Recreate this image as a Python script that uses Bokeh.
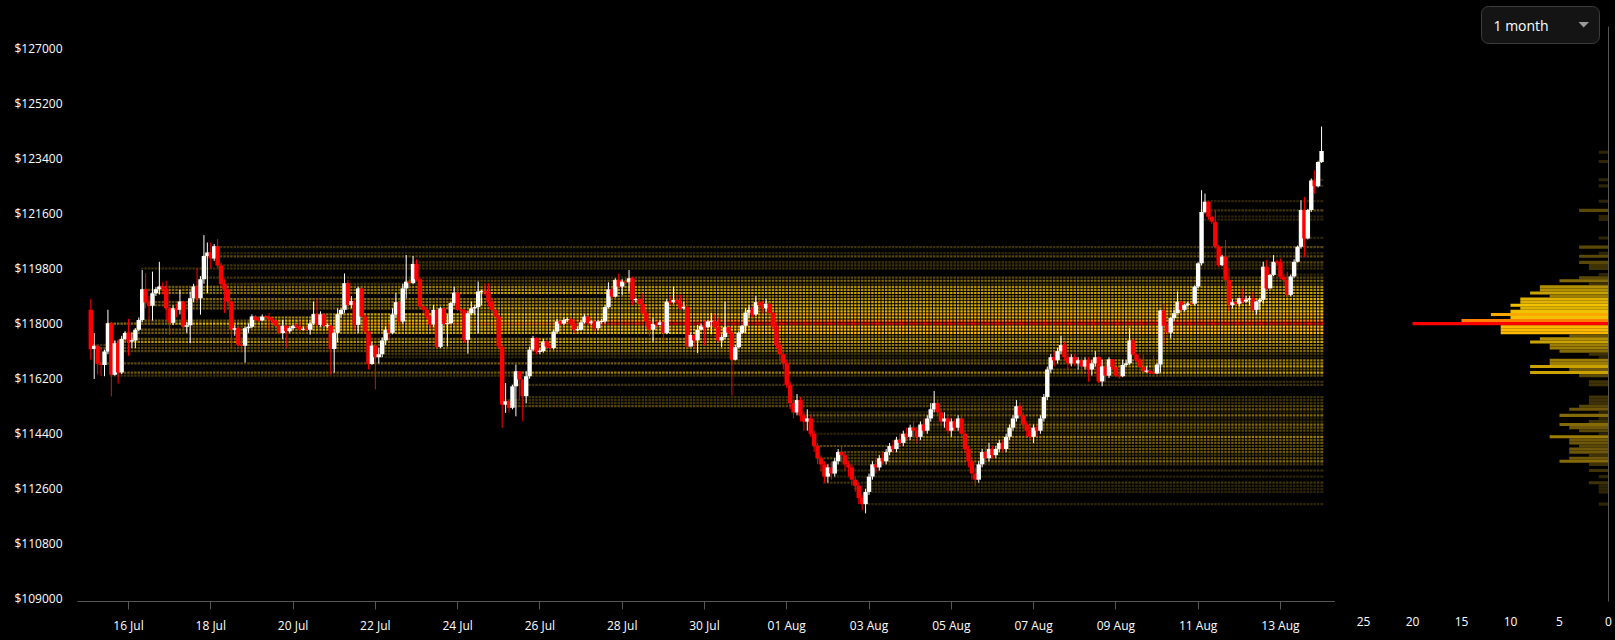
import numpy as np
import pandas as pd
from bokeh.plotting import figure
from bokeh.layouts import row
from bokeh.models import Range1d, FixedTicker, PrintfTickFormatter, ColumnDataSource, Label
from bokeh.embed import file_html
from bokeh.resources import INLINE

# ---------------------------------------------------------------- data
candle_start = "2025-07-15 02:00"     # 2-hour candles
first_open = 118450

closes = [
    117170, 117280, 116690, 116650, 117090, 118010, 116330, 117360, 116400, 117500, 117690,
    117420, 117450, 117800, 118120, 119120, 118690, 118580, 118990, 119120, 119210, 119150, 118500,
    118030, 118500, 118450, 118720, 117900, 117950, 118830, 119210, 118830, 119450, 120210, 120320,
    120130, 120530, 119900, 119290, 119120, 118720, 117800, 117850, 117310, 117280, 117850, 117900,
    118230, 118120, 118100, 118230, 118220, 118130, 118100, 117930, 117690, 117930, 117750, 117850,
    117930, 117900, 117800, 117820, 117800, 118000, 118310, 117960, 118300, 117930, 117930, 117170,
    117700, 118310, 118450, 119320, 118610, 118740, 117960, 119150, 118230, 117740, 116680, 117280,
    116900, 117000, 117450, 117800, 117700, 118300, 118700, 118070, 119150, 119370, 119320, 119950,
    119450, 118560, 118450, 118230, 117970, 118450, 117240, 118500, 117990, 118010, 118670, 119010,
    118450, 118440, 117470, 118340, 118500, 118540, 119050, 119050, 119040, 118720, 118450, 118230,
    117250, 115350, 115460, 115250, 115950, 116440, 116170, 115630, 116280, 117150, 117530, 117090,
    117100, 117420, 117250, 117200, 117740, 118070, 118000, 118120, 118140, 117990, 117800, 117800,
    118040, 118230, 118010, 118070, 117850, 118070, 118070, 118540, 119120, 118880, 119430, 119210,
    119370, 119350, 119480, 118770, 118800, 118640, 118340, 118070, 117800, 117990, 117960, 118040,
    117690, 118720, 118700, 118770, 118670, 118500, 118550, 117250, 117630, 117450, 117800, 117930,
    117880, 118070, 118080, 117880, 117450, 117560, 117880, 117700, 116820, 117230, 117700, 117930,
    118360, 118450, 118300, 118700, 118600, 118500, 118650, 118350, 117900, 117300, 117000, 116700,
    116000, 115400, 115100, 115500, 115000, 114800, 114900, 114400, 114000, 113600, 113400, 113000,
    113300, 113100, 113500, 113800, 113700, 113400, 113300, 112900, 112700, 112300, 112100, 112500,
    113000, 113400, 113300, 113600, 113500, 113800, 114000, 113900, 114200, 114100, 114400, 114300,
    114600, 114500, 114300, 114700, 114500, 114900, 115200, 115400, 115100, 114800, 114900, 114500,
    114800, 114600, 114900, 114400, 113900, 113500, 113100, 112900, 113400, 113800, 113600, 113900,
    113700, 113900, 114100, 113900, 114300, 114600, 114900, 115300, 115000, 114700, 114500, 114300,
    114600, 114500, 114900, 115600, 116500, 116900, 116800, 117100, 117300, 116900, 116700, 116900,
    116700, 116800, 116600, 116800, 116500, 116700, 116900, 116110, 116600, 116300, 116830, 116580,
    116300, 116280, 116650, 116700, 117450, 116990, 116820, 116580, 116440, 116450, 116390, 116370,
    116660, 118430, 117930, 117710, 118180, 118340, 118720, 118450, 118610, 118660, 118650, 119210,
    119970, 121650, 121980, 121490, 121330, 120510, 119910, 120190, 119430, 118610, 118700, 118650,
    118830, 118720, 118780, 118830, 118450, 118720, 118780, 119860, 119150, 119590, 120020, 120000,
    119530, 119430, 118940, 119540, 120020, 120510, 121710, 120780, 121710, 122680, 122490, 123280,
    123640,
]

highs = [
    118800, 117690, 117300, 117200, 117150, 118450, 118050, 117450, 117480, 117600, 117750,
    118150, 117700, 117850, 118200, 119750, 119650, 118900, 119700, 119200, 120020, 119350, 119400,
    118550, 118600, 118650, 119100, 118750, 118050, 119050, 119300, 119800, 119550, 120890, 120650,
    120650, 120600, 120760, 120000, 119450, 119150, 118750, 117950, 117900, 117550, 117900, 118000,
    118300, 118280, 118200, 118300, 118280, 118350, 118200, 118120, 117960, 118120, 117950, 117900,
    117960, 118000, 118100, 117900, 117930, 118050, 118720, 118800, 118400, 118350, 118000, 117950,
    117800, 118500, 118500, 119640, 119430, 118900, 118800, 119200, 119150, 118300, 117760, 117400,
    117350, 117200, 117550, 117900, 118000, 118500, 119000, 118750, 119300, 120240, 119450, 120210,
    120100, 119500, 118600, 118500, 118250, 118610, 118460, 118550, 118520, 118290, 118700, 119200,
    119200, 118500, 118460, 118400, 118720, 118600, 119370, 119100, 119300, 119320, 118850, 118450,
    118300, 117260, 116060, 115500, 116000, 116660, 116450, 116200, 116440, 117250, 117600, 117550,
    117200, 117500, 117450, 117300, 117800, 118150, 118100, 118200, 118200, 118200, 118130, 117900,
    118100, 118300, 118250, 118100, 118100, 118100, 118150, 118600, 119350, 119200, 119480, 119640,
    119450, 119500, 119750, 119530, 118850, 118830, 118990, 118400, 118100, 118180, 118070, 118100,
    118040, 118800, 118900, 119210, 118940, 118940, 118700, 118880, 117700, 117650, 117960, 118000,
    118100, 118100, 118350, 118300, 118200, 117650, 118720, 117900, 117750, 117300, 117750, 117950,
    118500, 118600, 118550, 118900, 118800, 118750, 118800, 118700, 118400, 117950, 117400, 117100,
    116800, 116100, 115500, 115700, 115600, 115100, 115200, 115000, 114500, 114100, 113700, 113500,
    113400, 113500, 113600, 113900, 114000, 113800, 113500, 113400, 113000, 112800, 112400, 112600,
    113100, 113500, 113600, 113700, 113800, 113900, 114100, 114200, 114300, 114400, 114500, 114600,
    114700, 114800, 114600, 114800, 114900, 115000, 115400, 115800, 115500, 115200, 115100, 115000,
    114900, 114900, 115000, 115000, 114500, 114000, 113600, 113300, 113500, 113900, 114000, 114100,
    114000, 114000, 114200, 114200, 114400, 114700, 115000, 115500, 115400, 115100, 114800, 114600,
    114700, 114700, 115000, 115700, 116600, 117000, 117100, 117200, 117600, 117400, 117000, 117000,
    117000, 116900, 116900, 116900, 116900, 116800, 117100, 116950, 116820, 116820, 116900, 116840,
    116600, 116450, 116820, 116800, 117850, 117500, 117020, 116880, 116980, 116600, 116500, 116950,
    116700, 118450, 118670, 117990, 118200, 118450, 119050, 118730, 118650, 118700, 118700, 119250,
    120000, 122360, 122250, 122000, 121500, 121700, 120570, 120250, 120730, 119810, 118800, 118800,
    118850, 119150, 118900, 118900, 119050, 118750, 118850, 120020, 120080, 119620, 120240, 120100,
    120130, 119600, 119700, 119600, 120100, 120550, 122030, 122140, 121750, 122740, 123010, 123300,
    124440,
]

lows = [
    116820, 116190, 116330, 116280, 116280, 117000, 115620, 116300, 116040, 116350, 117450,
    116950, 117200, 117200, 117750, 118050, 118500, 118100, 118100, 118900, 118950, 118950, 118120,
    117630, 117950, 118200, 118300, 117800, 117700, 117360, 118700, 118700, 118290, 119300, 119000,
    119800, 120050, 119800, 119200, 118350, 118600, 117200, 117600, 117250, 117060, 116730, 117700,
    117850, 118050, 118050, 118080, 118150, 117800, 118000, 117900, 117650, 117500, 117200, 117700,
    117800, 117850, 117750, 117780, 117780, 117640, 117950, 117900, 117900, 117900, 117850, 116330,
    116400, 117400, 118200, 118350, 118550, 118500, 117800, 117700, 118200, 117700, 116500, 116650,
    115850, 116700, 116900, 117300, 117500, 117650, 118200, 117900, 118000, 118830, 119200, 119300,
    119400, 118500, 118350, 118150, 117830, 117900, 117200, 117200, 117950, 117250, 118000, 118600,
    118400, 118300, 117370, 117020, 118280, 118300, 117690, 118600, 118900, 118560, 118400, 118200,
    117200, 114590, 115080, 115100, 115200, 114970, 115520, 114810, 115400, 116200, 117100, 117000,
    117000, 117050, 117200, 117150, 117150, 117700, 117950, 117950, 118050, 117950, 117690, 117750,
    117780, 118000, 117950, 117950, 117740, 117800, 118000, 118000, 118500, 118800, 118850, 119150,
    118930, 119250, 119040, 118610, 118700, 118600, 118300, 117880, 117580, 117420, 117900, 117950,
    117420, 117650, 118600, 118650, 118620, 118450, 118450, 117200, 117400, 117200, 117040, 117800,
    117300, 117850, 117650, 117850, 117400, 117230, 117500, 117650, 115650, 116800, 117200, 117650,
    117700, 118200, 118200, 118250, 118400, 118350, 118400, 118300, 117800, 117200, 116800, 116500,
    115900, 115200, 114900, 115000, 114800, 114500, 114500, 114300, 113800, 113400, 113200, 112800,
    112800, 112900, 113000, 113400, 113500, 113200, 113000, 112700, 112500, 112100, 111900, 111800,
    112400, 112900, 113100, 113200, 113400, 113400, 113700, 113800, 113800, 114000, 114000, 114200,
    114200, 114300, 114100, 114200, 114400, 114400, 114800, 115100, 115000, 114700, 114600, 114400,
    114300, 114500, 114500, 114300, 113800, 113300, 112900, 112700, 112800, 113300, 113500, 113500,
    113600, 113600, 113800, 113800, 113800, 114200, 114500, 114800, 114900, 114600, 114300, 114200,
    114100, 114300, 114400, 114800, 115500, 116400, 116600, 116700, 117000, 116800, 116500, 116600,
    116600, 116500, 116400, 116500, 116100, 116300, 116600, 116050, 115950, 116100, 116220, 116500,
    116250, 116200, 116250, 116600, 116650, 116950, 116750, 116550, 116400, 116400, 116350, 116350,
    116350, 116400, 117280, 117650, 117520, 118100, 118400, 118400, 118400, 118550, 118600, 118600,
    119150, 119900, 121600, 121400, 121250, 120450, 119850, 119880, 119150, 118400, 118500, 118550,
    118550, 118650, 118700, 118600, 118400, 118300, 118450, 118650, 119100, 119150, 119550, 119900,
    119450, 119250, 118830, 118900, 119500, 120000, 120450, 120180, 120750, 121650, 122250, 122450,
    123250,
]

# price-level profile (count per 100 USD level)
profile_prices = [
    123600, 123300, 122700, 122500, 122000, 121700, 121500, 121400, 120800, 120500,
    120300, 120200, 120000, 119900, 119800, 119600, 119500, 119400, 119300, 119200,
    119100, 119000, 118900, 118800, 118700, 118600, 118500, 118400, 118300, 118200,
    118100, 118000, 117900, 117800, 117700, 117600, 117500, 117400, 117300, 117200,
    117100, 117000, 116900, 116800, 116700, 116600, 116500, 116400, 116300, 116100,
    116000, 115600, 115500, 115400, 115300, 115200, 115100, 115000, 114900, 114800,
    114700, 114600, 114500, 114400, 114300, 114200, 114100, 114000, 113900, 113800,
    113700, 113600, 113500, 113400, 113200, 113000, 112800, 112700, 112600, 112500,
    112100,
]
profile_counts = [
    1, 1, 1, 1, 1, 3, 1, 1, 1, 3,
    1, 3, 3, 2, 2, 1, 3, 5, 2, 7,
    7, 8, 6, 9, 9, 10, 9, 10, 12, 10,
    15, 20, 11, 11, 11, 4, 7, 8, 6, 6,
    5, 2, 1, 6, 6, 8, 4, 8, 3, 2,
    2, 2, 2, 2, 3, 4, 1, 5, 1, 2,
    5, 4, 3, 1, 6, 4, 4, 3, 4, 4,
    2, 4, 5, 2, 2, 1, 2, 1, 1, 1,
    1,
]

x_tick_dates = ["2025-07-16", "2025-07-18", "2025-07-20", "2025-07-22", "2025-07-24",
                "2025-07-26", "2025-07-28", "2025-07-30", "2025-08-01", "2025-08-03",
                "2025-08-05", "2025-08-07", "2025-08-09", "2025-08-11", "2025-08-13"]
x_tick_labels = ["16 Jul", "18 Jul", "20 Jul", "22 Jul", "24 Jul", "26 Jul", "28 Jul", "30 Jul",
                 "01 Aug", "03 Aug", "05 Aug", "07 Aug", "09 Aug", "11 Aug", "13 Aug"]
y_tick_prices = [109000, 110800, 112600, 114400, 116200, 118000, 119800, 121600, 123400, 125200, 127000]
volume_ticks = [0, 5, 10, 15, 20, 25]
period_label = "1 month"

# ---------------------------------------------------------------- styles
BG = "#000000"
UP = "#ffffff"
DOWN = "#ff0000"
AXIS = "#555555"
TEXT = "#ffffff"
FONT = "Open Sans"
heat_palette = ["#000000", "#2e2406", "#3f3306", "#5a4808", "#6e5709", "#856a08",
                "#9c7d05", "#b39002", "#cba300", "#dfb200", "#f2c200", "#ffb900",
                "#ffa800", "#ff9c00", "#ff8f00", "#ff8000", "#ff6a00", "#ff5400",
                "#ff3c00", "#ff2200", "#ff0000"]
HEAT_GAMMA = 0.5         # how fast a level's colour builds up over time
HEAT_WIDTH = 2.2
COLUMN_GAP = 1.0

# layout geometry (screen pixels)
W_MAIN, W_VOL, H = 1335, 278, 638
MAIN_L = 77
FRAME_B = 601
VOL_L, VOL_R = 1340, 1608
TICK0_X = 128            # screen x of the first date tick
PX_PER_DAY = 41.14
PX_PER_VOL = 9.8
TOP_TICK_Y = 47.7        # screen y of the top price tick
USD_PER_PX = 32.68


def py(px):
    return y_tick_prices[-1] - (px - TOP_TICK_Y) * USD_PER_PX


def vx(px):
    return (VOL_R - px) / PX_PER_VOL


MS_DAY = 86400000.0
MS_HOUR = 3600000.0
ms_per_px = MS_DAY / PX_PER_DAY
tick_ms = [pd.Timestamp(d).value / 1e6 for d in x_tick_dates]
x_start = tick_ms[0] - (TICK0_X - MAIN_L) * ms_per_px
x_end = tick_ms[0] + (W_MAIN - TICK0_X) * ms_per_px

# ---------------------------------------------------------------- candles
n = min(len(closes), len(highs), len(lows))
c = np.array(closes[:n], float)
h = np.array(highs[:n], float)
lo = np.array(lows[:n], float)
o = np.r_[first_open, c[:-1]]
times = pd.date_range(candle_start, periods=n, freq="2h")
t = times.asi8 / 1e6

top = np.maximum(o, c)
bot = np.minimum(o, c)
min_body = 1.2 * USD_PER_PX
mid = (top + bot) / 2
thin = (top - bot) < min_body
top = np.where(thin, mid + min_body / 2, top)
bot = np.where(thin, mid - min_body / 2, bot)
whi = np.maximum(h, top)
wlo = np.minimum(lo, bot)
col = np.where(c >= o, UP, DOWN)

candles = ColumnDataSource(dict(t=t, top=top, bot=bot, whi=whi, wlo=wlo, col=col))

# ---------------------------------------------------------------- heat rows
level = np.floor((c + 50) / 100) * 100
end_ms = t[-1] + MS_HOUR
heat = dict(x0=[], x1=[], y=[], color=[])
for p_lvl, cnt in zip(profile_prices, profile_counts):
    ev = list(np.nonzero(level == p_lvl)[0])
    if not ev:
        touch = np.nonzero((wlo <= p_lvl + 50) & (whi >= p_lvl - 50))[0]
        if len(touch) == 0:
            continue
        ev = [touch[0]]
    m = len(ev)
    for k, i0 in enumerate(ev):
        x1 = t[ev[k + 1]] - MS_HOUR if k + 1 < m else end_ms
        idx = int(np.ceil(cnt * ((k + 1) / m) ** HEAT_GAMMA - 1e-9))
        idx = min(max(idx, 1), len(heat_palette) - 1)
        heat["x0"].append(t[i0] - MS_HOUR)
        heat["x1"].append(x1)
        heat["y"].append(p_lvl)
        heat["color"].append(heat_palette[idx])
heat_src = ColumnDataSource(heat)

heat_lo = min(profile_prices) - 60
heat_hi = max(profile_prices) + 60
gaps = ColumnDataSource(dict(x=t - MS_HOUR, y0=np.full(n, heat_lo), y1=np.full(n, heat_hi)))

# ---------------------------------------------------------------- main figure
yr = Range1d(py(FRAME_B), py(0))
p = figure(width=W_MAIN, height=H, x_range=Range1d(x_start, x_end), y_range=yr,
           output_backend="svg", toolbar_location=None,
           min_border_left=MAIN_L, min_border_right=0, min_border_top=0,
           min_border_bottom=H - FRAME_B,
           background_fill_color=BG, border_fill_color=BG, outline_line_color=None)
p.xgrid.grid_line_color = None
p.ygrid.grid_line_color = None

p.segment(x0="x0", y0="y", x1="x1", y1="y", line_color="color", line_width=HEAT_WIDTH,
          source=heat_src)
p.segment(x0="x", y0="y0", x1="x", y1="y1", line_color=BG, line_width=COLUMN_GAP, source=gaps)
p.segment(x0="t", y0="wlo", x1="t", y1="whi", line_color="col", line_width=1, source=candles)
p.vbar(x="t", width=2.57 * MS_HOUR, top="top", bottom="bot", fill_color="col",
       line_color=None, source=candles)

ax = p.xaxis[0]
ax.ticker = FixedTicker(ticks=tick_ms)
ax.major_label_overrides = {float(k): v for k, v in zip(tick_ms, x_tick_labels)}
ax.axis_line_color = AXIS
ax.major_tick_line_color = AXIS
ax.major_tick_out = 8
ax.major_tick_in = 0
ax.minor_tick_line_color = None
ax.major_label_standoff = 7
ax.major_label_text_color = TEXT
ax.major_label_text_font = FONT
ax.major_label_text_font_size = "12px"

ay = p.yaxis[0]
ay.ticker = FixedTicker(ticks=y_tick_prices)
ay.formatter = PrintfTickFormatter(format="$%d")
ay.axis_line_color = None
ay.major_tick_line_color = None
ay.minor_tick_line_color = None
ay.major_tick_out = 0
ay.major_tick_in = 0
ay.major_label_standoff = 15
ay.major_label_text_color = TEXT
ay.major_label_text_font = FONT
ay.major_label_text_font_size = "12px"

# ---------------------------------------------------------------- profile figure
p2 = figure(width=W_VOL, height=H, x_range=Range1d(vx(VOL_L), vx(VOL_R)), y_range=yr,
            y_axis_location="right", output_backend="svg", toolbar_location=None,
            min_border_left=VOL_L - W_MAIN, min_border_right=W_MAIN + W_VOL - VOL_R,
            min_border_top=0, min_border_bottom=H - FRAME_B,
            background_fill_color=BG, border_fill_color=BG, outline_line_color=None)
p2.xgrid.grid_line_color = None
p2.ygrid.grid_line_color = None

bar_colors = [heat_palette[min(int(round(v)), len(heat_palette) - 1)] for v in profile_counts]
p2.hbar(y=profile_prices, height=100, left=0, right=profile_counts,
        fill_color=bar_colors, line_color=None)

bx = p2.xaxis[0]
bx.ticker = FixedTicker(ticks=volume_ticks)
bx.axis_line_color = None
bx.major_tick_line_color = None
bx.minor_tick_line_color = None
bx.major_tick_out = 0
bx.major_tick_in = 0
bx.major_label_standoff = 15
bx.major_label_text_color = TEXT
bx.major_label_text_font = FONT
bx.major_label_text_font_size = "12px"

by = p2.yaxis[0]
by.ticker = FixedTicker(ticks=[])
by.bounds = (py(FRAME_B), py(26))
by.axis_line_color = AXIS
by.major_tick_line_color = None
by.minor_tick_line_color = None
by.major_tick_out = 0
by.major_tick_in = 0
by.major_label_text_font_size = "0px"

# period selector (drawn)
box_kw = dict(left=[vx(1481)], right=[vx(1599)], top=[py(6)], bottom=[py(43)],
              fill_color="#141414", line_color="#3c3c3c", line_width=1)
try:
    p2.quad(border_radius=7, **box_kw)
except Exception:
    p2.quad(**box_kw)
p2.add_layout(Label(x=vx(1493), y=py(24.5), text=period_label, text_color=TEXT,
                    text_font=FONT, text_font_size="14px", text_baseline="middle",
                    text_align="left"))
p2.patch(x=[vx(1578), vx(1588.5), vx(1583.2)], y=[py(21.5), py(21.5), py(27)],
         fill_color="#9a9a9a", line_color=None)

layout = row(p, p2)
html = file_html(layout, INLINE, title="BTC price levels")
html = html.replace("</head>",
                    "<style>html,body{margin:0;padding:0;background:#000000;}</style></head>", 1)
with open("out.html", "w") as f:
    f.write(html)
